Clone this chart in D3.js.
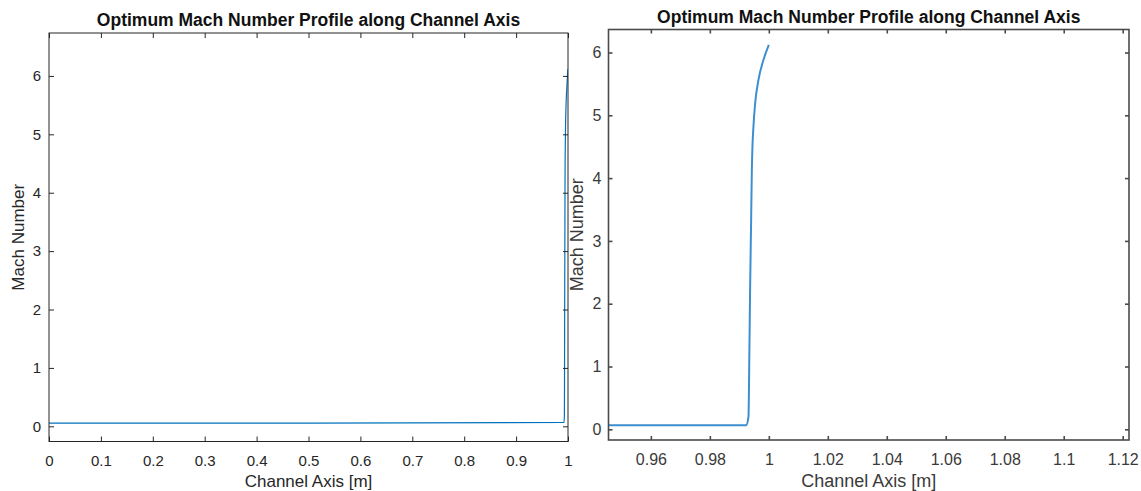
<!DOCTYPE html>
<html>
<head>
<meta charset="utf-8">
<script src="https://cdn.jsdelivr.net/npm/d3@7"></script>
<style>
  html,body{margin:0;padding:0;background:#fff;}
  svg{display:block;font-family:"Liberation Sans",Arial,Helvetica,sans-serif;}
</style>
</head>
<body>
<div id="chart"></div>
<script>
/* Mach number along the channel axis, full view + zoom near the exit */
var profileX=[0,0.5,0.9923,0.9931,0.9934,0.99366,0.9940,0.99424,0.99445,0.99478,0.99536,0.99647,0.99817,1.0];
var profileM=[0.055,0.055,0.065,0.20,1.21,2.27,3.33,4.13,4.50,4.82,5.19,5.56,5.88,6.12];

var leftXTicks=[0,0.1,0.2,0.3,0.4,0.5,0.6,0.7,0.8,0.9,1];
var rightXTicks=[0.96,0.98,1,1.02,1.04,1.06,1.08,1.1,1.12];
var yTicks=[0,1,2,3,4,5,6];

var titleText="Optimum Mach Number Profile along Channel Axis";
var xLabel="Channel Axis [m]", yLabel="Mach Number";

var W=1141,H=491;
var svg=d3.select("#chart").append("svg").attr("width",W).attr("height",H);

var pts=profileX.map(function(x,i){return {x:x,m:profileM[i]};});

var panels=[
  {id:"a",x0:49,x1:568,y0:33,y1:441.5,xd:[0,1],yd:[-0.26,6.735],xt:leftXTicks,
   ax:"#262626",tx:"#262626",aw:1,lw:1.2,lc:"#0072BD",tick:5,fs:15,ls:17,ypad:8,titleY:26,ylabX:24},
  {id:"b",x0:608.5,x1:1129,y0:29.5,y1:440,xd:[0.94563,1.12214],yd:[-0.17,6.366],xt:rightXTicks,
   ax:"#4a4a4a",tx:"#3a3a3a",aw:1.6,lw:2,lc:"#3d8fd0",tick:4,fs:16,ls:18,ypad:7,titleY:23,ylabX:583}
];

panels.forEach(function(p){
  var x=d3.scaleLinear().domain(p.xd).range([p.x0,p.x1]);
  var y=d3.scaleLinear().domain(p.yd).range([p.y1,p.y0]);
  var g=svg.append("g");
  var fmt=d3.format("~g");

  g.append("clipPath").attr("id","clip-"+p.id).append("rect")
    .attr("x",p.x0).attr("y",p.y0).attr("width",p.x1-p.x0).attr("height",p.y1-p.y0);

  var line=d3.line().x(function(d){return x(d.x);}).y(function(d){return y(d.m);}).curve(d3.curveMonotoneX);
  g.append("path").datum(pts).attr("clip-path","url(#clip-"+p.id+")")
    .attr("d",line).attr("fill","none").attr("stroke",p.lc).attr("stroke-width",p.lw)
    .attr("stroke-linejoin","round");

  function styleAxis(sel){
    sel.selectAll(".domain").remove();
    sel.selectAll(".tick line").attr("stroke",p.ax).attr("stroke-width",p.aw);
    sel.selectAll(".tick text").attr("fill",p.tx).style("font-size",p.fs+"px");
  }
  g.append("g").attr("transform","translate(0,"+p.y1+")")
    .call(d3.axisBottom(x).tickValues(p.xt).tickSize(-p.tick).tickPadding(14).tickFormat(fmt)).call(styleAxis);
  g.append("g").attr("transform","translate(0,"+p.y0+")")
    .call(d3.axisTop(x).tickValues(p.xt).tickSize(-p.tick).tickFormat("")).call(styleAxis);
  g.append("g").attr("transform","translate("+p.x0+",0)")
    .call(d3.axisLeft(y).tickValues(yTicks).tickSize(-p.tick).tickPadding(p.ypad).tickFormat(fmt)).call(styleAxis);
  g.append("g").attr("transform","translate("+p.x1+",0)")
    .call(d3.axisRight(y).tickValues(yTicks).tickSize(-p.tick).tickFormat("")).call(styleAxis);

  g.append("rect").attr("x",p.x0).attr("y",p.y0).attr("width",p.x1-p.x0).attr("height",p.y1-p.y0)
    .attr("fill","none").attr("stroke",p.ax).attr("stroke-width",p.aw);

  g.append("text").attr("x",(p.x0+p.x1)/2).attr("y",p.titleY).attr("text-anchor","middle")
    .style("font-size","17.5px").style("font-weight","bold").attr("fill","#111").text(titleText);
  g.append("text").attr("x",(p.x0+p.x1)/2).attr("y",487).attr("text-anchor","middle")
    .style("font-size",p.ls+"px").attr("fill",p.tx).text(xLabel);
  g.append("text").attr("transform","translate("+p.ylabX+","+((p.y0+p.y1)/2)+") rotate(-90)")
    .attr("text-anchor","middle").style("font-size",p.ls+"px").attr("fill",p.tx).text(yLabel);
});
</script>
</body>
</html>
